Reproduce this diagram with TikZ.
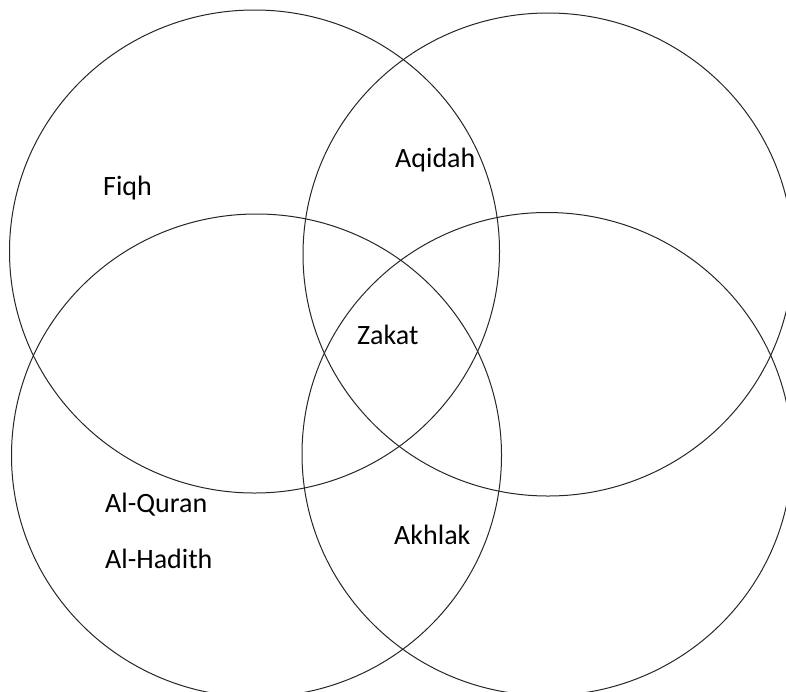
\documentclass[tikz,border=0pt]{standalone}
\usepackage{fontspec}
\setmainfont{Carlito}
\usetikzlibrary{shapes.geometric}
\tikzset{
  venn set/.style={
    ellipse,
    draw=black!85,
    line width=1pt,
    minimum width=490pt,
    minimum height=483pt,
    inner sep=0pt,
    outer sep=0pt,
  },
  venn label/.style={
    anchor=base west,
    inner sep=0pt,
    font=\fontsize{28}{32}\selectfont,
  },
}
\begin{document}
\begin{tikzpicture}[x=1pt,y=-1pt]
  \useasboundingbox (0,0) rectangle (786,691);
  \clip (0,0) rectangle (786,691);

  \node[venn set] (topleft) at (254.5,251.5) {};
  \node[venn set] (topright) at (548,254.5) {};
  \node[venn set] (bottomleft) at (256.5,455.5) {};
  \node[venn set] (bottomright) at (547,454) {};

  \node[venn label] (fiqh) at (103,195) {Fiqh};
  \node[venn label] (aqidah) at (395,167) {Aqidah};
  \node[venn label] (zakat) at (357,344) {Zakat};
  \node[venn label] (quran) at (105,512) {Al-Quran};
  \node[venn label] (hadith) at (105,568) {Al-Hadith};
  \node[venn label] (akhlak) at (394,544) {Akhlak};
\end{tikzpicture}
\end{document}
